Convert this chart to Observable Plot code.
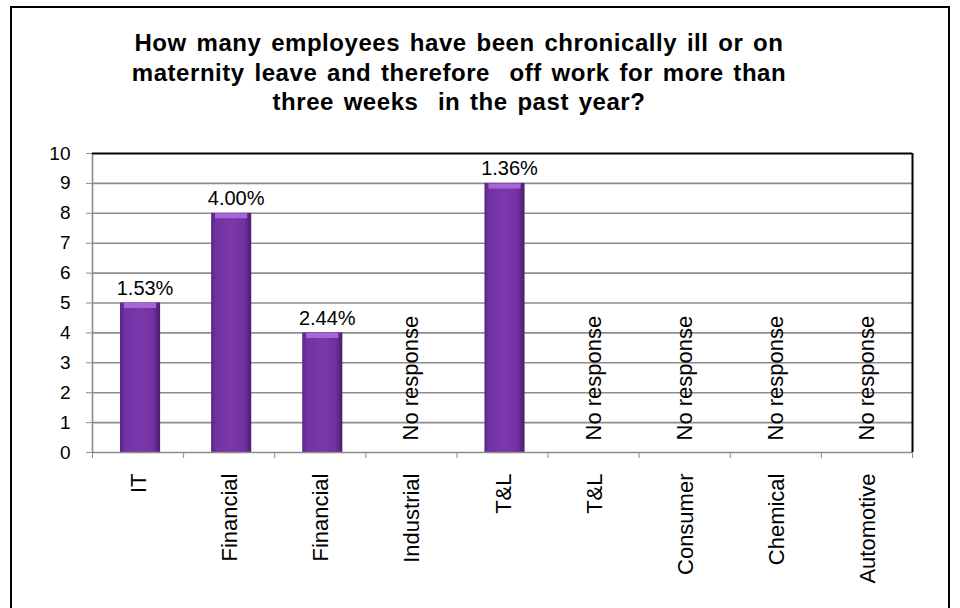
<!DOCTYPE html>
<html>
<head>
<meta charset="utf-8">
<script src="https://cdn.jsdelivr.net/npm/d3@7"></script>
<script src="https://cdn.jsdelivr.net/npm/@observablehq/plot@0.6"></script>
<style>
  html, body { margin: 0; padding: 0; background: #fff; width: 960px; height: 608px; overflow: hidden; }
  #frame { position: absolute; left: 10px; top: 6px; width: 936px; height: 700px; border: 2px solid #000; }
  #title { position: absolute; left: 0; top: 28px; width: 918px; text-align: center;
    font-family: Arial, "Liberation Sans", sans-serif; font-weight: 700; font-size: 24px;
    line-height: 29.5px; letter-spacing: 0.55px; word-spacing: 2.5px; color: #000; }
  #chart { position: absolute; left: 0; top: 130px; }
</style>
</head>
<body>
<div id="frame"></div>
<div id="title">How many employees have been chronically ill or on<br>maternity leave and therefore&nbsp; off work for more than<br>three weeks&nbsp; in the past year?</div>
<div id="chart"></div>
<script>
// ---- data ----
const categories = ["IT", "Financial", "Financial", "Industrial", "T&L", "T&L", "Consumer", "Chemical", "Automotive"];
const counts = [5, 8, 4, null, 9, null, null, null, null];
const labels = ["1.53%", "4.00%", "2.44%", "No response", "1.36%", "No response", "No response", "No response", "No response"];
const yTicks = [0, 1, 2, 3, 4, 5, 6, 7, 8, 9, 10];

const data = categories.map((c, i) => ({i, category: c, count: counts[i], label: labels[i]}));
const answered = data.filter(d => d.count != null);
const missing = data.filter(d => d.count == null);

const gray = "#8c8c8c";
const font = "Arial, 'Liberation Sans', sans-serif";

const chart = Plot.plot({
  width: 960,
  height: 478,
  marginLeft: 92,
  marginRight: 48,
  marginTop: 23,
  marginBottom: 156,
  x: {domain: [0, categories.length], axis: null, label: null},
  y: {domain: [0, 10], axis: null, label: null},
  style: {fontFamily: font, background: "transparent", color: "#000", overflow: "visible"},
  marks: [
    Plot.ruleY(yTicks.filter(d => d > 0 && d < 10), {stroke: gray, strokeWidth: 1.6}),
    Plot.rectY(answered, {x1: "i", x2: d => d.i + 1, y: "count", insetLeft: 28, insetRight: 23, fill: "url(#barGrad)"}),
    Plot.ruleY(answered, {y: "count", x1: "i", x2: d => d.i + 1, insetLeft: 32, insetRight: 27, dy: 2.5, stroke: "#a766d8", strokeWidth: 5}),
    Plot.ruleX([0], {stroke: gray, strokeWidth: 1.6}),
    Plot.ruleY([0], {stroke: gray, strokeWidth: 1.6}),
    Plot.axisY({ticks: yTicks, tickSize: 6, tickPadding: 16, fontSize: 19, stroke: gray, fill: "#000", label: null, tickFormat: d => String(d)}),
    Plot.axisX({ticks: d3.range(categories.length + 1), tickSize: 6, stroke: gray, label: null, tickFormat: () => ""}),
    Plot.ruleY([10], {stroke: "#000", strokeWidth: 2}),
    Plot.ruleX([categories.length], {stroke: "#000", strokeWidth: 2}),
    Plot.text(answered, {x: d => d.i + 0.5, y: "count", text: "label", dy: -8, dx: 7, lineAnchor: "bottom", fontSize: 20, fill: "#000"}),
    Plot.text(missing, {x: d => d.i + 0.5, y: () => 0, text: "label", rotate: -90, textAnchor: "start", lineAnchor: "middle", dy: -12, fontSize: 22, fill: "#000"}),
    Plot.text(data, {x: d => d.i + 0.5, y: () => 0, text: "category", rotate: -90, textAnchor: "end", lineAnchor: "middle", dy: 21, dx: 1, fontSize: 22, fill: "#000"})
  ]
});

const defs = `<defs>
  <linearGradient id="barGrad" x1="0" x2="1" y1="0" y2="0">
    <stop offset="0" stop-color="#5a2584"/>
    <stop offset="0.12" stop-color="#7232a2"/>
    <stop offset="0.5" stop-color="#7b38ac"/>
    <stop offset="0.82" stop-color="#7232a2"/>
    <stop offset="1" stop-color="#4c1d6e"/>
  </linearGradient>
</defs>`;
chart.insertAdjacentHTML("afterbegin", defs);
document.getElementById("chart").appendChild(chart);
</script>
</body>
</html>
